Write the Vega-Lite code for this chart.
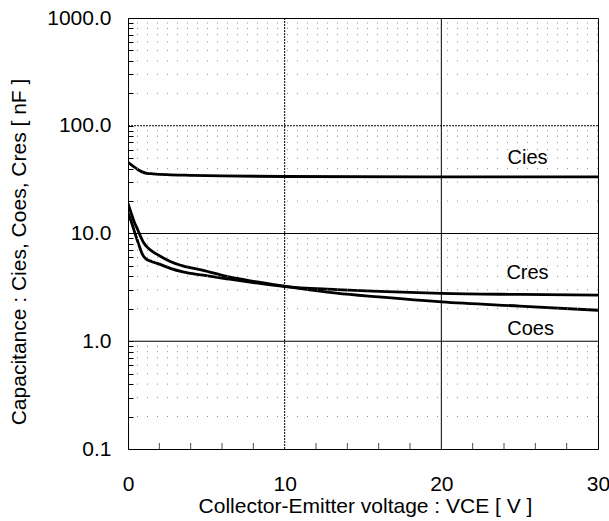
{
  "$schema": "https://vega.github.io/schema/vega-lite/v6.json",
  "autosize": "none",
  "padding": {"left": 128, "top": 18, "right": 11, "bottom": 72},
  "width": 470,
  "height": 431,
  "background": "white",
  "config": {
    "view": {"stroke": "black", "strokeWidth": 1},
    "font": "Liberation Sans",
    "axis": {"labelOverlap": false}
  },
  "datasets": {
    "curves": [
      {"series": "Cies", "v": 0, "c": 45.7}, {"series": "Cies", "v": 0.3, "c": 42.5}, {"series": "Cies", "v": 0.6, "c": 39.5}, {"series": "Cies", "v": 0.9, "c": 37.3}, {"series": "Cies", "v": 1.2, "c": 36.2}, {"series": "Cies", "v": 1.6, "c": 35.8}, {"series": "Cies", "v": 2.5, "c": 35.2}, {"series": "Cies", "v": 4, "c": 34.7}, {"series": "Cies", "v": 6, "c": 34.2}, {"series": "Cies", "v": 10, "c": 33.8}, {"series": "Cies", "v": 20, "c": 33.6}, {"series": "Cies", "v": 30, "c": 33.6},
      {"series": "Coes", "v": 0, "c": 19}, {"series": "Coes", "v": 0.2, "c": 15.5}, {"series": "Coes", "v": 0.4, "c": 12.8}, {"series": "Coes", "v": 0.6, "c": 11}, {"series": "Coes", "v": 0.8, "c": 9.4}, {"series": "Coes", "v": 1.0, "c": 8.2}, {"series": "Coes", "v": 1.3, "c": 7.3}, {"series": "Coes", "v": 1.7, "c": 6.6}, {"series": "Coes", "v": 2.2, "c": 6.0}, {"series": "Coes", "v": 2.7, "c": 5.5}, {"series": "Coes", "v": 3.5, "c": 5.0}, {"series": "Coes", "v": 4.8, "c": 4.55}, {"series": "Coes", "v": 6.3, "c": 4.0}, {"series": "Coes", "v": 8, "c": 3.6}, {"series": "Coes", "v": 10, "c": 3.25}, {"series": "Coes", "v": 13.3, "c": 2.8}, {"series": "Coes", "v": 16, "c": 2.58}, {"series": "Coes", "v": 20, "c": 2.32}, {"series": "Coes", "v": 25, "c": 2.12}, {"series": "Coes", "v": 30, "c": 1.94},
      {"series": "Cres", "v": 0, "c": 15.5}, {"series": "Cres", "v": 0.2, "c": 13}, {"series": "Cres", "v": 0.45, "c": 10}, {"series": "Cres", "v": 0.7, "c": 7.8}, {"series": "Cres", "v": 0.9, "c": 6.5}, {"series": "Cres", "v": 1.1, "c": 5.9}, {"series": "Cres", "v": 1.5, "c": 5.5}, {"series": "Cres", "v": 2, "c": 5.2}, {"series": "Cres", "v": 2.7, "c": 4.75}, {"series": "Cres", "v": 3.5, "c": 4.4}, {"series": "Cres", "v": 4.8, "c": 4.1}, {"series": "Cres", "v": 6.3, "c": 3.8}, {"series": "Cres", "v": 8, "c": 3.5}, {"series": "Cres", "v": 10, "c": 3.22}, {"series": "Cres", "v": 13.3, "c": 3.02}, {"series": "Cres", "v": 16, "c": 2.9}, {"series": "Cres", "v": 20, "c": 2.78}, {"series": "Cres", "v": 25, "c": 2.72}, {"series": "Cres", "v": 30, "c": 2.68}
    ],
    "labels": [
      {"name": "Cies", "v": 25.5, "c": 44.5},
      {"name": "Cres", "v": 25.5, "c": 3.82},
      {"name": "Coes", "v": 25.7, "c": 1.154}
    ],
    "minorgrid": [
      {"c": 0.2}, {"c": 0.3}, {"c": 0.4}, {"c": 0.5}, {"c": 0.6}, {"c": 0.7}, {"c": 0.8}, {"c": 0.9},
      {"c": 2}, {"c": 3}, {"c": 4}, {"c": 5}, {"c": 6}, {"c": 7}, {"c": 8}, {"c": 9},
      {"c": 20}, {"c": 30}, {"c": 40}, {"c": 50}, {"c": 60}, {"c": 70}, {"c": 80}, {"c": 90},
      {"c": 200}, {"c": 300}, {"c": 400}, {"c": 500}, {"c": 600}, {"c": 700}, {"c": 800}, {"c": 900}
    ],
    "xminor": [
      {"v": 2, "c": 0.1}, {"v": 4, "c": 0.1}, {"v": 6, "c": 0.1}, {"v": 8, "c": 0.1},
      {"v": 12, "c": 0.1}, {"v": 14, "c": 0.1}, {"v": 16, "c": 0.1}, {"v": 18, "c": 0.1},
      {"v": 22, "c": 0.1}, {"v": 24, "c": 0.1}, {"v": 26, "c": 0.1}, {"v": 28, "c": 0.1}
    ],
    "solidh": [{"c": 1}, {"c": 10}],
    "dottedh": [{"c": 100}],
    "solidv": [{"v": 20}],
    "dottedv": [{"v": 10}]
  },
  "layer": [
    {
      "data": {"name": "curves"},
      "mark": {"type": "line", "color": "black", "strokeWidth": 2.8, "interpolate": "monotone", "clip": true},
      "encoding": {
        "x": {
          "field": "v", "type": "quantitative",
          "scale": {"domain": [0, 30], "nice": false, "zero": false},
          "axis": {
            "title": "Collector-Emitter voltage : VCE [ V ]",
            "values": [0, 10, 20, 30],
            "format": "d",
            "domain": false, "grid": false, "ticks": false,
            "labelFont": "Liberation Sans", "labelFontSize": 21, "labelColor": "black",
            "labelPadding": 24, "labelBaseline": "top", "labelFlush": false, "labelOverlap": false,
            "titleFont": "Liberation Sans", "titleFontSize": 21, "titleFontWeight": "normal", "titleColor": "black",
            "titleX": 237, "titleY": 63, "titleBaseline": "alphabetic", "titleAlign": "center"
          }
        },
        "y": {
          "field": "c", "type": "quantitative",
          "scale": {"type": "log", "domain": [0.1, 1000], "nice": false},
          "axis": {
            "title": "Capacitance : Cies, Coes, Cres [ nF ]",
            "values": [0.1, 0.2, 0.3, 0.4, 0.5, 0.6, 0.7, 0.8, 0.9, 1, 2, 3, 4, 5, 6, 7, 8, 9, 10, 20, 30, 40, 50, 60, 70, 80, 90, 100, 200, 300, 400, 500, 600, 700, 800, 900, 1000],
            "labelExpr": "abs(log(datum.value)/LN10 - round(log(datum.value)/LN10)) < 0.001 ? format(datum.value, '.1f') : ''",
            "domain": false, "grid": false,
            "tickSize": -5, "tickColor": "black", "tickWidth": 1,
            "labelFont": "Liberation Sans", "labelFontSize": 21, "labelColor": "black",
            "labelPadding": 22, "labelBaseline": "middle", "labelOverlap": false, "labelFlush": false,
            "titleFont": "Liberation Sans", "titleFontSize": 21, "titleFontWeight": "normal", "titleColor": "black",
            "titleX": -103, "titleY": 233.5, "titleBaseline": "alphabetic", "titleAlign": "center", "titleAngle": -90
          }
        },
        "detail": {"field": "series", "type": "nominal"}
      }
    },
    {
      "data": {"name": "minorgrid"},
      "mark": {"type": "rule", "color": "#888", "strokeWidth": 1, "strokeDash": [1, 9]},
      "encoding": {
        "y": {"field": "c", "type": "quantitative"}
      }
    },
    {
      "data": {"name": "solidh"},
      "mark": {"type": "rule", "color": "black", "strokeWidth": 1},
      "encoding": {
        "y": {"field": "c", "type": "quantitative"}
      }
    },
    {
      "data": {"name": "dottedh"},
      "mark": {"type": "rule", "color": "black", "strokeWidth": 1, "strokeDash": [2, 1]},
      "encoding": {
        "y": {"field": "c", "type": "quantitative"}
      }
    },
    {
      "data": {"name": "solidv"},
      "mark": {"type": "rule", "color": "black", "strokeWidth": 1},
      "encoding": {
        "x": {"field": "v", "type": "quantitative"}
      }
    },
    {
      "data": {"name": "dottedv"},
      "mark": {"type": "rule", "color": "black", "strokeWidth": 1, "strokeDash": [2, 1]},
      "encoding": {
        "x": {"field": "v", "type": "quantitative"}
      }
    },
    {
      "data": {"name": "xminor"},
      "mark": {"type": "tick", "orient": "vertical", "color": "black", "size": 12, "thickness": 1, "clip": true},
      "encoding": {
        "x": {"field": "v", "type": "quantitative"},
        "y": {"field": "c", "type": "quantitative"}
      }
    },
    {
      "data": {"name": "labels"},
      "mark": {"type": "text", "font": "Liberation Sans", "fontSize": 20, "color": "black", "align": "center", "baseline": "alphabetic"},
      "encoding": {
        "x": {"field": "v", "type": "quantitative"},
        "y": {"field": "c", "type": "quantitative"},
        "text": {"field": "name", "type": "nominal"}
      }
    }
  ]
}
